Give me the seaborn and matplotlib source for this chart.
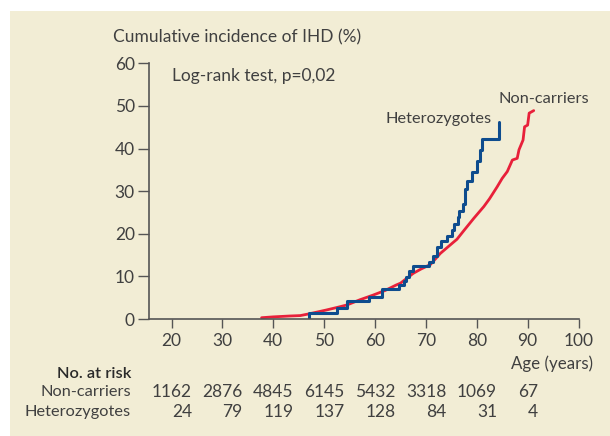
import numpy as np
import pandas as pd
import seaborn as sns
import matplotlib.pyplot as plt
import matplotlib.transforms as mtransforms
from matplotlib.patches import Rectangle

# cumulative incidence curves
het_age = [47.0, 47.0, 52.6, 54.5, 58.8, 61.3, 64.7, 65.7, 66.0, 66.6, 67.5,
           70.6, 71.4, 72.1, 72.9, 74.1, 75.1, 75.5, 76.3, 76.6, 77.2, 77.7,
           78.0, 79.1, 80.0, 80.6, 81.0, 84.4]
het_inc = [0.0, 1.5, 2.5, 4.2, 5.2, 7.0, 8.0, 8.8, 9.9, 11.2, 12.5,
           13.4, 14.8, 17.0, 18.4, 19.5, 20.9, 22.4, 24.0, 25.4, 27.1, 30.6,
           32.4, 34.5, 37.0, 39.6, 42.3, 46.2]

nc_age = [37.7, 40.0, 43.2, 45.3, 47.0, 50.4, 52.5, 54.5, 57.0, 59.6, 62.0,
          64.2, 65.0, 67.5, 69.0, 70.9, 72.85, 75.5, 76.1, 77.5, 79.4, 81.4,
          82.5, 84.0, 85.0, 86.0, 87.0, 87.95, 88.3, 89.1, 89.4, 90.0, 90.3, 91.2]
nc_inc = [0.3, 0.5, 0.7, 0.8, 1.2, 2.1, 2.7, 3.3, 4.5, 5.6, 6.7,
          8.0, 8.4, 10.7, 11.7, 12.8, 15.4, 18.1, 18.7, 20.8, 23.6, 26.4,
          28.2, 31.0, 33.0, 34.6, 37.3, 37.7, 39.7, 42.0, 45.1, 45.5, 48.3, 48.9]

# number at risk table
risk_ages = [20, 30, 40, 50, 60, 70, 80, 90]
risk_noncarriers = [1162, 2876, 4845, 6145, 5432, 3318, 1069, 67]
risk_hetero = [24, 79, 119, 137, 128, 84, 31, 4]

W, H = 610, 436
cream = '#F2EDD5'
txt = '#404040'
blue = '#0E4C8E'
red = '#E8203A'

sns.set_style('ticks')
plt.rcParams['font.family'] = ['Lato', 'DejaVu Sans']

fig = plt.figure(figsize=(W / 100, H / 100), dpi=100)
fig.patch.set_facecolor('white')
fig.patches.append(Rectangle((10 / W, 0), 1, 1 - 11 / H, transform=fig.transFigure,
                             facecolor=cream, edgecolor='none', zorder=-10))

ax = fig.add_axes([149 / W, 1 - 319 / H, (578.5 - 149) / W, (319 - 63.3) / H])
ax.patch.set_alpha(0)

df_het = pd.DataFrame({'age': het_age, 'inc': het_inc})
df_nc = pd.DataFrame({'age': nc_age, 'inc': nc_inc})
sns.lineplot(data=df_nc, x='age', y='inc', estimator=None, sort=False,
             color=red, lw=2.0, ax=ax, solid_joinstyle='round')
sns.lineplot(data=df_het, x='age', y='inc', estimator=None, sort=False,
             drawstyle='steps-post', color=blue, lw=2.2, ax=ax)

ax.set_xlim(15.57, 100)
ax.set_ylim(0, 60)
ax.set_xticks(range(20, 101, 10))
ax.set_yticks(range(0, 61, 10))
ax.set_xlabel('')
ax.set_ylabel('')
sns.despine(ax=ax)
for s in ['left', 'bottom']:
    ax.spines[s].set_color('#555555')
    ax.spines[s].set_linewidth(1.2)
ax.tick_params(axis='x', direction='out', length=6.3, width=1, color='#555555',
               labelsize=12.5, labelcolor=txt, pad=3.5)
ax.tick_params(axis='y', direction='out', length=8.2, width=1, color='#555555',
               labelsize=12.5, labelcolor=txt, pad=2)


def ftext(x, y, s, **kw):
    kw.setdefault('color', txt)
    kw.setdefault('fontsize', 11.8)
    kw.setdefault('va', 'center')
    fig.text(x / W, 1 - y / H, s, **kw)


ftext(113, 37, 'Cumulative incidence of IHD (%)', fontsize=12.5)
ftext(172, 75.5, 'Log-rank test, p=0,02', fontsize=12.5)
ftext(492, 119, 'Heterozygotes', ha='right')
ftext(499, 99, 'Non-carriers')
ftext(593, 364, 'Age (years)', ha='right', fontsize=12.2)
ftext(131, 374, 'No. at risk', ha='right', fontweight='semibold', color='#2a2a2a')
ftext(131, 392, 'Non-carriers', ha='right')
ftext(131, 412, 'Heterozygotes', ha='right')

trans = mtransforms.blended_transform_factory(ax.transData, fig.transFigure)
for a, n1, n2 in zip(risk_ages, risk_noncarriers, risk_hetero):
    xr = a + len(str(n1)) * 1.0
    ax.text(xr, 1 - 392 / H, str(n1), transform=trans, ha='right', va='center',
            fontsize=12.5, color=txt, clip_on=False)
    ax.text(xr, 1 - 412 / H, str(n2), transform=trans, ha='right', va='center',
            fontsize=12.5, color=txt, clip_on=False)

fig.savefig('out.png', dpi=100, facecolor=fig.get_facecolor())
